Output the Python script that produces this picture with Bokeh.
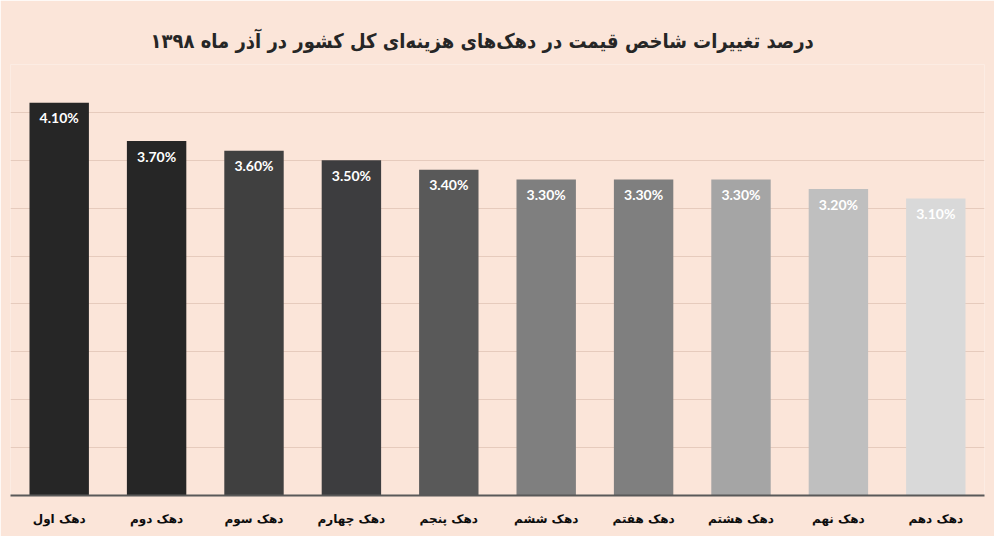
from bokeh.plotting import figure
from bokeh.models import ColumnDataSource, FactorRange, Range1d, SingleIntervalTicker, Title
from bokeh.core.properties import value
from bokeh.embed import file_html
from bokeh.resources import INLINE

title_text = "درصد تغییرات شاخص قیمت در دهک‌های هزینه‌ای کل کشور در آذر ماه ۱۳۹۸"
categories = ["دهک اول", "دهک دوم", "دهک سوم", "دهک چهارم", "دهک پنجم",
              "دهک ششم", "دهک هفتم", "دهک هشتم", "دهک نهم", "دهک دهم"]
values = [4.1, 3.7, 3.6, 3.5, 3.4, 3.3, 3.3, 3.3, 3.2, 3.1]
labels = ["4.10%", "3.70%", "3.60%", "3.50%", "3.40%", "3.30%", "3.30%", "3.30%", "3.20%", "3.10%"]
colors = ["#262626", "#262626", "#404040", "#3d3d3f", "#595959",
          "#7f7f7f", "#7f7f7f", "#a5a5a5", "#bfbfbf", "#d9d9d9"]

BG = "#fbe5d9"

src = ColumnDataSource(dict(cat=categories, val=values, lab=labels, col=colors))

p = figure(width=994, height=536, x_range=FactorRange(*categories), y_range=Range1d(0, 4.5),
           output_backend="svg", toolbar_location=None,
           background_fill_color=BG, border_fill_color=BG, outline_line_color=None,
           min_border_left=10, min_border_right=10, min_border_top=64, min_border_bottom=41)

p.add_layout(Title(text=title_text, align="left", offset=140,
                   text_font="'DejaVu Sans Condensed', 'DejaVu Sans'", text_font_size="20px",
                   text_font_style="bold", text_color="#262626", standoff=24), "above")

p.vbar(x="cat", top="val", width=0.61, source=src, fill_color="col", line_color=None)

p.text(x="cat", y="val", text="lab", source=src, y_offset=15,
       text_align="center", text_baseline="middle", text_color="white",
       text_font=value("Lato"), text_font_style="bold", text_font_size="14px")

p.yaxis.visible = False
p.yaxis.ticker = SingleIntervalTicker(interval=0.5)
p.ygrid.ticker = SingleIntervalTicker(interval=0.5)
p.ygrid.grid_line_color = "#e6cbbd"
p.ygrid.grid_line_width = 1
p.xgrid.grid_line_color = None

p.xaxis.axis_line_color = "#595959"
p.xaxis.axis_line_width = 2
p.xaxis.major_tick_line_color = None
p.xaxis.minor_tick_line_color = None
p.xaxis.major_label_standoff = 10
p.xaxis.major_label_text_font = "DejaVu Sans"
p.xaxis.major_label_text_font_style = "bold"
p.xaxis.major_label_text_font_size = "12px"
p.xaxis.major_label_text_color = "#0d0d0d"

open("out.html", "w").write(file_html(p, INLINE))
